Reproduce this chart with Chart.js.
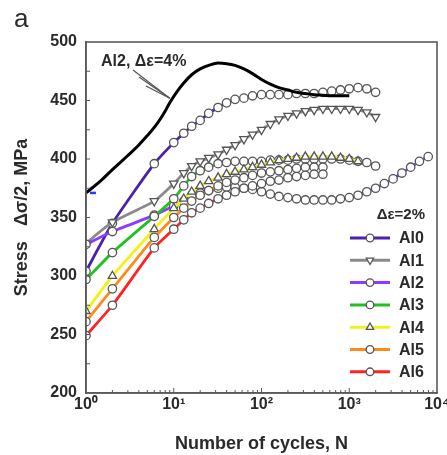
<!DOCTYPE html>
<html>
<head>
<meta charset="utf-8">
<script src="https://cdn.jsdelivr.net/npm/chart.js@4.4.0/dist/chart.umd.min.js"></script>
<style>
  html, body { margin: 0; padding: 0; background: #fff; }
</style>
</head>
<body>
<canvas id="myChart" width="447" height="455"></canvas>
<script>
// cycle counts where each 2% strain test was sampled
const cycles = [1, 2, 6, 10, 13, 16, 20, 25, 32, 40, 50, 63, 79, 100, 126, 158, 200, 251,
  316, 398, 501, 631, 794, 1000, 1259, 1585, 1995, 2512, 3162, 3981, 5012, 6310, 7943];

// stress amplitude (MPa) per alloy, one value per entry of cycles
const al0 = [304, 345, 396, 414, 422, 428, 433, 439, 444, 448, 451, 452, 454, 455, 455, 455,
  455, 456, 456, 456, 457, 458, 459, 460, 461, 460, 457];
const al1 = [328, 346, 364, 379, 388, 394, 398, 401, 404, 408, 412, 417, 421, 425, 430, 434,
  437, 439, 441, 442, 443, 443, 443, 443, 442, 440, 436];
const al2 = [327, 338, 352, 360, 364, 368, 371, 373, 375, 376, 376, 375, 374, 372, 370, 368,
  367, 366, 365, 365, 365, 365, 366, 367, 369, 372, 375, 379, 383, 388, 393, 398, 402];
const al3 = [297, 320, 351, 366, 377, 385, 390, 393, 396, 397, 398, 398, 398, 398, 399, 399,
  399, 400, 400, 400, 400, 400, 400, 399, 398, 397, 394];
const al4 = [270, 300, 340, 358, 366, 372, 377, 381, 384, 387, 389, 391, 393, 395, 397, 399,
  400, 401, 402, 402, 402, 402, 401, 400, 398];
const al5 = [261, 289, 333, 350, 358, 364, 369, 373, 377, 380, 382, 384, 386, 388, 389, 390,
  391, 392, 393, 393, 393];
const al6 = [249, 275, 324, 340, 348, 354, 358, 362, 366, 369, 372, 375, 377, 379, 381, 382,
  384, 385, 386, 387, 387];

// Al2 at 4% strain amplitude (plain line)
const al2HighCycles = [1, 1.5, 2, 3, 4, 5, 6, 7, 8, 9, 11, 13, 16, 20, 25, 32, 40, 50, 63, 79,
  100, 126, 158, 200, 251, 316, 398, 501, 631, 794, 1000];
const al2HighStress = [371, 382, 391, 403, 412, 420, 427, 434, 441, 448, 458, 465, 472, 477,
  480, 482, 481.5, 480, 477, 473, 468, 464, 461, 459, 457, 456, 455, 454.5, 454, 454, 454];

const legendNames = ['Al0', 'Al1', 'Al2', 'Al3', 'Al4', 'Al5', 'Al6'];
const colors = ['#4b22a8', '#8a8a8a', '#8a3cff', '#22c022', '#f2f21a', '#ff8a1a', '#ff2222'];
const markers = ['circle', 'triangle', 'circle', 'circle', 'triangle', 'circle', 'circle'];
const markerRot = [0, 180, 0, 0, 0, 0, 0];
const seriesValues = [al0, al1, al2, al3, al4, al5, al6];

const frameColor = '#5a5a5a';
const textColor = '#2a2a2a';
const markEdge = '#555';
const fontFamily = '"Liberation Sans", Arial, sans-serif';

function series(i) {
  return {
    label: legendNames[i],
    data: seriesValues[i].map((v, k) => ({ x: cycles[k], y: v })),
    borderColor: colors[i],
    borderWidth: 2.8,
    pointStyle: markers[i],
    rotation: markerRot[i],
    pointRadius: markers[i] === 'triangle' ? 4.8 : 4.2,
    pointBorderColor: markEdge,
    pointBorderWidth: 1.3,
    pointBackgroundColor: '#fff',
    tension: 0.2,
    order: 7 - i
  };
}

const datasets = [
  {
    label: 'Al2 4%',
    data: al2HighCycles.map((c, k) => ({ x: c, y: al2HighStress[k] })),
    borderColor: '#000',
    borderWidth: 3,
    pointRadius: 0,
    cubicInterpolationMode: 'monotone',
    order: 0
  },
  {
    label: 'mark',
    data: [{ x: 1.2, y: 371 }],
    showLine: false,
    pointStyle: 'line',
    pointRadius: 3,
    pointBorderColor: '#1f3cff',
    pointBorderWidth: 2.5,
    order: 0
  }
];
for (let i = 0; i < 7; i++) datasets.push(series(i));

const supDigits = { '0': '\u2070', '1': '\u00b9', '2': '\u00b2', '3': '\u00b3', '4': '\u2074' };

function drawMarker(ctx, style, cx, cy, r, rot) {
  ctx.beginPath();
  if (style === 'triangle') {
    const a0 = rot ? Math.PI / 2 : -Math.PI / 2;
    for (let k = 0; k < 3; k++) {
      const a = a0 + k * 2 * Math.PI / 3;
      const px = cx + r * Math.cos(a), py = cy + r * Math.sin(a);
      k ? ctx.lineTo(px, py) : ctx.moveTo(px, py);
    }
    ctx.closePath();
  } else {
    ctx.arc(cx, cy, r, 0, Math.PI * 2);
  }
  ctx.fillStyle = '#fff';
  ctx.fill();
  ctx.strokeStyle = markEdge;
  ctx.lineWidth = 1.3;
  ctx.stroke();
}

// frame, inward ticks, annotation and legend
const decorations = {
  id: 'decorations',
  afterDraw(chart) {
    const { ctx, chartArea: a, scales: { x, y } } = chart;
    ctx.save();
    ctx.strokeStyle = frameColor;
    ctx.lineWidth = 1.6;
    ctx.strokeRect(a.left, a.top, a.right - a.left, a.bottom - a.top);

    ctx.lineWidth = 1;
    for (let v = 225; v < 500; v += 25) {
      const py = y.getPixelForValue(v);
      ctx.beginPath(); ctx.moveTo(a.left, py); ctx.lineTo(a.left + 4, py); ctx.stroke();
    }
    for (let d = 1; d < 10000; d *= 10) {
      for (let m = 2; m <= 10; m++) {
        if (d * m >= 10000) continue;
        const px = x.getPixelForValue(d * m);
        const len = m === 10 ? 5 : 3;
        ctx.beginPath(); ctx.moveTo(px, a.bottom); ctx.lineTo(px, a.bottom - len); ctx.stroke();
      }
    }

    // panel letter
    ctx.fillStyle = textColor;
    ctx.font = '26px ' + fontFamily;
    ctx.textBaseline = 'alphabetic';
    ctx.textAlign = 'left';
    ctx.fillText('a', 14, 27);

    // 4% curve label with arrow
    ctx.font = 'bold 16px ' + fontFamily;
    ctx.fillText('Al2, \u0394\u03b5=4%', 101, 66);
    const tipX = x.getPixelForValue(9), tipY = y.getPixelForValue(452);
    ctx.strokeStyle = '#555';
    ctx.lineWidth = 1.2;
    [[133, 70], [139, 77], [146, 86]].forEach(([sx, sy]) => {
      ctx.beginPath(); ctx.moveTo(sx, sy); ctx.lineTo(tipX, tipY); ctx.stroke();
    });

    // legend
    ctx.font = 'bold 15px ' + fontFamily;
    ctx.textAlign = 'right';
    ctx.fillStyle = textColor;
    ctx.fillText('\u0394\u03b5=2%', a.right - 12, 219);
    ctx.font = 'bold 16px ' + fontFamily;
    ctx.textAlign = 'left';
    ctx.textBaseline = 'middle';
    legendNames.forEach((name, i) => {
      const ly = 238 + i * 22.3;
      const x0 = a.right - 87, x1 = a.right - 47;
      ctx.strokeStyle = colors[i];
      ctx.lineWidth = 3;
      ctx.beginPath(); ctx.moveTo(x0, ly); ctx.lineTo(x1, ly); ctx.stroke();
      drawMarker(ctx, markers[i], (x0 + x1) / 2, ly, markers[i] === 'triangle' ? 4.2 : 3.8, markerRot[i]);
      ctx.fillStyle = textColor;
      ctx.fillText(name, a.right - 38, ly + 1);
    });
    ctx.restore();
  }
};

const config = {
  type: 'line',
  data: { datasets: datasets },
  options: {
    responsive: false,
    animation: false,
    layout: { padding: { top: 42, right: 10, bottom: 0, left: 0 } },
    plugins: { legend: { display: false }, tooltip: { enabled: false } },
    scales: {
      x: {
        type: 'logarithmic',
        min: 1,
        max: 10000,
        afterBuildTicks: s => { s.ticks = [1, 10, 100, 1000, 10000].map(v => ({ value: v })); },
        afterFit: s => { s.height = 62; s.paddingLeft = 0; s.paddingRight = 0; },
        grid: { display: false, drawTicks: false },
        border: { display: true, color: frameColor, width: 1.6 },
        ticks: {
          autoSkip: false,
          maxRotation: 0,
          padding: 2,
          color: textColor,
          font: { family: fontFamily, size: 16, weight: 'bold' },
          callback: v => '10' + supDigits[String(Math.round(Math.log10(v)))]
        },
        title: {
          display: true,
          text: 'Number of cycles, N',
          color: textColor,
          font: { family: fontFamily, size: 18, weight: 'bold' },
          padding: { top: 0, bottom: 0 }
        }
      },
      y: {
        min: 200,
        max: 500,
        afterFit: s => { s.width = 86; },
        grid: { display: false, drawTicks: false },
        border: { display: true, color: frameColor, width: 1.6 },
        ticks: {
          stepSize: 50,
          padding: 9,
          color: textColor,
          font: { family: fontFamily, size: 16, weight: 'bold' }
        },
        title: {
          display: true,
          text: 'Stress   \u0394\u03c3/2, MPa',
          color: textColor,
          font: { family: fontFamily, size: 18, weight: 'bold' },
          padding: { top: 11, bottom: 0 }
        }
      }
    }
  },
  plugins: [decorations]
};

const myChart = new Chart(document.getElementById('myChart'), config);
</script>
</body>
</html>
